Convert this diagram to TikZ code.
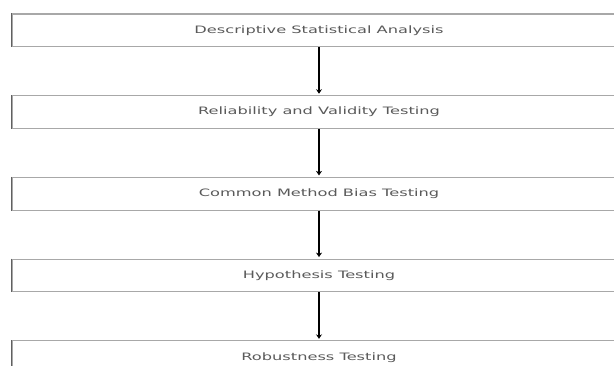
\documentclass[tikz,border=0pt]{standalone}
\usepackage{fontspec}
\newfontfamily\boxfont[FakeStretch=1.59]{DejaVu Sans}
\usetikzlibrary{arrows.meta}
\definecolor{txtgray}{HTML}{5A5A5A}
\definecolor{edgegray}{HTML}{A8A8A8}
\definecolor{leftgray}{HTML}{606060}
\tikzset{
  stagebox/.style={draw=edgegray, line width=1.1pt, fill=white,
    minimum width=614pt, minimum height=32.7pt, inner sep=0pt,
    font=\boxfont\fontsize{10.2}{12}\selectfont, text=txtgray},
  leftedge/.style={draw=leftgray, line width=1.3pt},
  flow/.style={draw=black, line width=1.3pt, -{Stealth[length=4.5pt,width=6pt]}, shorten >=1.5pt}
}
\begin{document}
\begin{tikzpicture}[x=1pt,y=1pt]
\useasboundingbox[fill=white] (0,0) rectangle (614,365);
\node[stagebox] (b1) at (319,{365-30.4}) {Descriptive Statistical Analysis};
\node[stagebox] (b2) at (319,{365-112.1}) {Reliability and Validity Testing};
\node[stagebox] (b3) at (319,{365-193.8}) {Common Method Bias Testing};
\node[stagebox] (b4) at (319,{365-275.5}) {Hypothesis Testing};
\node[stagebox] (b5) at (319,{365-357.2}) {Robustness Testing};
\foreach \b in {b1,b2,b3,b4,b5}{
  \draw[leftedge] (\b.north west) -- (\b.south west);
}
\draw[flow] (b1.south) -- (b2.north);
\draw[flow] (b2.south) -- (b3.north);
\draw[flow] (b3.south) -- (b4.north);
\draw[flow] (b4.south) -- (b5.north);
\end{tikzpicture}
\end{document}
